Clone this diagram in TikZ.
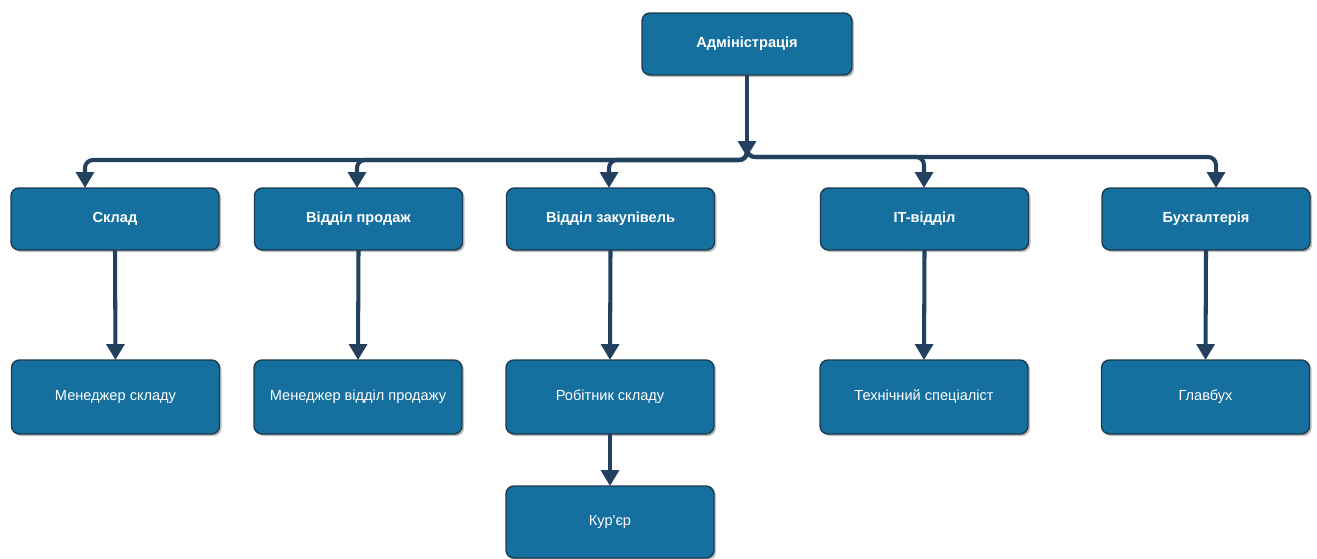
\documentclass[tikz,border=0pt]{standalone}
\usepackage{fontspec}
\setmainfont{Liberation Sans}[Ligatures=TeXOff]
\usetikzlibrary{arrows.meta,shadows}
\definecolor{boxfill}{HTML}{15709F}
\definecolor{boxline}{HTML}{1C3A50}
\definecolor{conn}{HTML}{23415E}
\tikzset{
  orgbox/.style={draw=boxline, line width=0.8pt, fill=boxfill, rounded corners=4.5pt,
    minimum width=4.16cm, minimum height=1.24cm, inner sep=0pt, outer sep=0pt,
    text=white, font=\fontsize{8.3}{10}\selectfont,
    drop shadow={shadow xshift=1.2pt, shadow yshift=-1.2pt, opacity=0.25, fill=black}},
  headbox/.style={orgbox, font=\fontsize{8.3}{10}\selectfont\bfseries},
  leafbox/.style={orgbox, minimum height=1.48cm},
  link/.style={draw=conn, line width=2.3pt, rounded corners=4.5pt,
    -{Triangle[width=10pt,length=9pt]}}
}
\begin{document}
\begin{tikzpicture}[x=0.02cm,y=-0.02cm]
\useasboundingbox (0,0) rectangle (1317,558);
\node[headbox, minimum width=4.2cm] (adm) at (747,44) {Адміністрація};
\node[headbox] (skl) at (115,219) {Склад};
\node[headbox] (prod) at (358.5,219) {Відділ продаж};
\node[headbox] (zak) at (610.5,219) {Відділ закупівель};
\node[headbox] (it) at (924.5,219) {IT-відділ};
\node[headbox] (bux) at (1206,219) {Бухгалтерія};
\node[leafbox] (mskl) at (115.5,397) {Менеджер складу};
\node[leafbox] (mprod) at (358,397) {Менеджер відділ продажу};
\node[leafbox] (rob) at (610,397) {Робітник складу};
\node[leafbox] (tech) at (924,397) {Технічний спеціаліст};
\node[leafbox] (glav) at (1205.5,397) {Главбух};
\node[leafbox, minimum height=1.44cm] (kur) at (610,522) {Кур'єр};
\coordinate (jn) at (747,157);
\coordinate (jtop) at (747,148);
\path[link] (adm.south) -- (jn);
% bus to the left
\path[link] (jtop) -- (747,160) -- (85,160) -- (85,188);
\path[link] (jtop) -- (747,160) -- (357,160) -- (357,188);
\path[link] (jtop) -- (747,160) -- (609,160) -- (609,188);
% bus to the right
\path[link] (jtop) -- (747,157) -- (924,157) -- (924,188);
\path[link] (jtop) -- (747,157) -- (1216,157) -- (1216,188);
% lower connectors
\path[link] (skl.south) -- (mskl.north);
\path[link] (prod.south) -- (mprod.north);
\path[link] (zak.south) -- (rob.north);
\path[link] (it.south) -- (tech.north);
\path[link] (bux.south) -- (glav.north);
\path[link] (rob.south) -- (kur.north);
\end{tikzpicture}
\end{document}
